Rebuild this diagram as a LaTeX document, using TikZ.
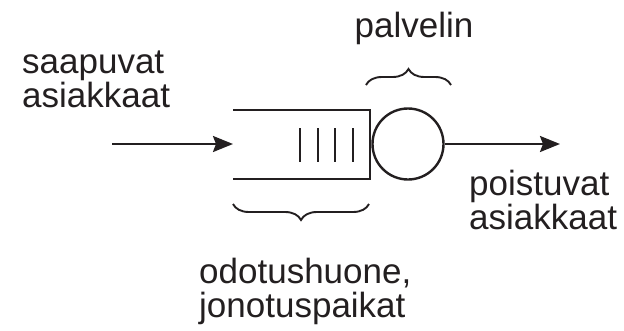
\documentclass[tikz,border=0pt]{standalone}
\usepackage{fontspec}
\setmainfont{Liberation Sans}
\usepackage{tikz}
\usetikzlibrary{arrows.meta, decorations.pathreplacing}
\definecolor{ink}{HTML}{231F20}

\begin{document}
\begin{tikzpicture}[x=1pt, y=-1pt, ink, line width=2.4pt,
  font=\fontsize{35}{34}\selectfont,
  >={Stealth[length=20pt,width=16pt,inset=3pt]},
  label/.style={inner sep=0pt, align=left},
  brace/.style={decorate, decoration={brace, amplitude=16pt}, line width=1.9pt}] % pixel-like units, y downwards
 \useasboundingbox (0,0) rectangle (624,330);
 \coordinate (src) at (112,144); % where the customers come from
 \coordinate (qin) at (233,144);
 \coordinate (sink) at (560,144);
 \node[circle, draw, minimum size=71pt, inner sep=0pt] (server) at (408,144) {}; % the server
 % waiting room, open on the left
 \draw (233,110) -| (370,179) -- (233,179);
 \foreach \X in {300,318,335,353}
 {\draw (\X,128) -- (\X,162);} % queue places
 \draw[->, line width=2.2pt] (src) -- (qin);
 \draw[->, line width=2.2pt] (server) -- (sink);
 % braces
 \draw[brace] (366,85) -- (451,85);
 \draw[brace] (369,204) -- (233,204);
 % texts (base = last line)
 \node[label, anchor=base] (serverlabel) at (414,37) {palvelin};
 \node[label, anchor=base west] (arrivals) at (21,107) {saapuvat\\asiakkaat};
 \node[label, anchor=base west] (departures) at (468,229) {poistuvat\\asiakkaat};
 \node[label, anchor=base west] (waiting) at (198,317) {odotushuone,\\jonotuspaikat};
\end{tikzpicture}
\end{document}
